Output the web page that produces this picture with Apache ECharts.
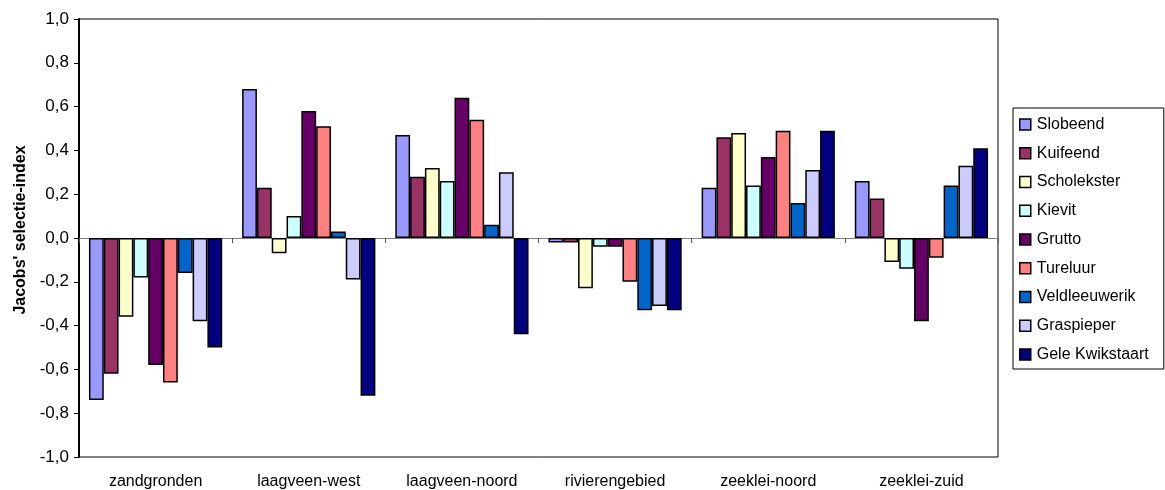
<!DOCTYPE html>
<html>
<head>
<meta charset="utf-8">
<script src="https://cdn.jsdelivr.net/npm/echarts@6/dist/echarts.min.js"></script>
<style>
  html, body { margin: 0; padding: 0; background: #fff; }
  #chart { width: 1165px; height: 490px; }
</style>
</head>
<body>
<div id="chart"></div>
<script>
// Landscape regions on the category axis
const regions = ['zandgronden', 'laagveen-west', 'laagveen-noord', 'rivierengebied', 'zeeklei-noord', 'zeeklei-zuid'];

// Bird species (legend order)
const species = ['Slobeend', 'Kuifeend', 'Scholekster', 'Kievit', 'Grutto', 'Tureluur', 'Veldleeuwerik', 'Graspieper', 'Gele Kwikstaart'];

// Jacobs' selection index per species, one value per region
const slobeend       = [-0.74,  0.68,  0.47, -0.02, 0.23,  0.26];
const kuifeend       = [-0.62,  0.23,  0.28, -0.02, 0.46,  0.18];
const scholekster    = [-0.36, -0.07,  0.32, -0.23, 0.48, -0.11];
const kievit         = [-0.18,  0.10,  0.26, -0.04, 0.24, -0.14];
const grutto         = [-0.58,  0.58,  0.64, -0.04, 0.37, -0.38];
const tureluur       = [-0.66,  0.51,  0.54, -0.20, 0.49, -0.09];
const veldleeuwerik  = [-0.16,  0.03,  0.06, -0.33, 0.16,  0.24];
const graspieper     = [-0.38, -0.19,  0.30, -0.31, 0.31,  0.33];
const geleKwikstaart = [-0.50, -0.72, -0.44, -0.33, 0.49,  0.41];

const seriesValues = [slobeend, kuifeend, scholekster, kievit, grutto, tureluur, veldleeuwerik, graspieper, geleKwikstaart];

// Classic office palette for the species
const colors = ['#9999FF', '#993366', '#FFFFCC', '#CCFFFF', '#660066', '#FF8080', '#0066CC', '#CCCCFF', '#000080'];

// Y-axis ticks
const yMin = -1.0, yMax = 1.0, yStep = 0.2;
const yTitle = "Jacobs' selectie-index";

const font = 'Liberation Sans, Arial, sans-serif';

const chart = echarts.init(document.getElementById('chart'), null, { renderer: 'canvas' });

chart.setOption({
  animation: false,
  backgroundColor: '#fff',
  textStyle: { fontFamily: font },
  grid: {
    left: 79, right: 167, top: 19, bottom: 33,
    show: true, borderColor: '#000', borderWidth: 1, backgroundColor: '#fff'
  },
  graphic: [{
    type: 'text',
    x: 21, y: 230,
    rotation: Math.PI / 2,
    style: {
      text: yTitle,
      fontFamily: font, fontSize: 16, fontWeight: 'bold', fill: '#000',
      align: 'center', verticalAlign: 'middle'
    }
  }],
  legend: {
    orient: 'vertical',
    left: 1013, top: 108,
    padding: [7, 15, 5, 6],
    itemGap: 9.75,
    itemWidth: 11, itemHeight: 11,
    borderColor: '#000', borderWidth: 1,
    textStyle: { fontFamily: font, fontSize: 16, lineHeight: 16, color: '#000', padding: [0, 0, 3, 1] },
    icon: 'rect',
    itemStyle: { borderColor: '#000', borderWidth: 1.5 },
    data: species
  },
  xAxis: [
    {
      type: 'category',
      data: regions,
      axisLine: { onZero: true, lineStyle: { color: '#808080', width: 1 } },
      axisTick: { show: true, interval: 0, length: 5, lineStyle: { color: '#555' } },
      axisLabel: { show: false },
      splitLine: { show: false }
    },
    {
      type: 'category',
      data: regions,
      position: 'bottom',
      axisLine: { show: false },
      axisTick: { show: false },
      axisLabel: { show: true, interval: 0, margin: 17, fontSize: 16, color: '#000', fontFamily: font }
    }
  ],
  yAxis: {
    type: 'value',
    min: yMin, max: yMax, interval: yStep,
    axisLine: { show: true, lineStyle: { color: '#000', width: 2 } },
    axisTick: { show: true, length: 5, lineStyle: { color: '#000' } },
    splitLine: { show: false },
    axisLabel: {
      fontSize: 17, color: '#000', margin: 10, fontFamily: font,
      formatter: v => v.toFixed(1).replace('.', ',')
    }
  },
  series: species.map((name, i) => ({
    name,
    type: 'bar',
    xAxisIndex: 0,
    data: seriesValues[i],
    barGap: '0%',
    barCategoryGap: '13%',
    itemStyle: { color: colors[i], borderColor: '#000', borderWidth: 1.5 }
  }))
});
</script>
</body>
</html>
